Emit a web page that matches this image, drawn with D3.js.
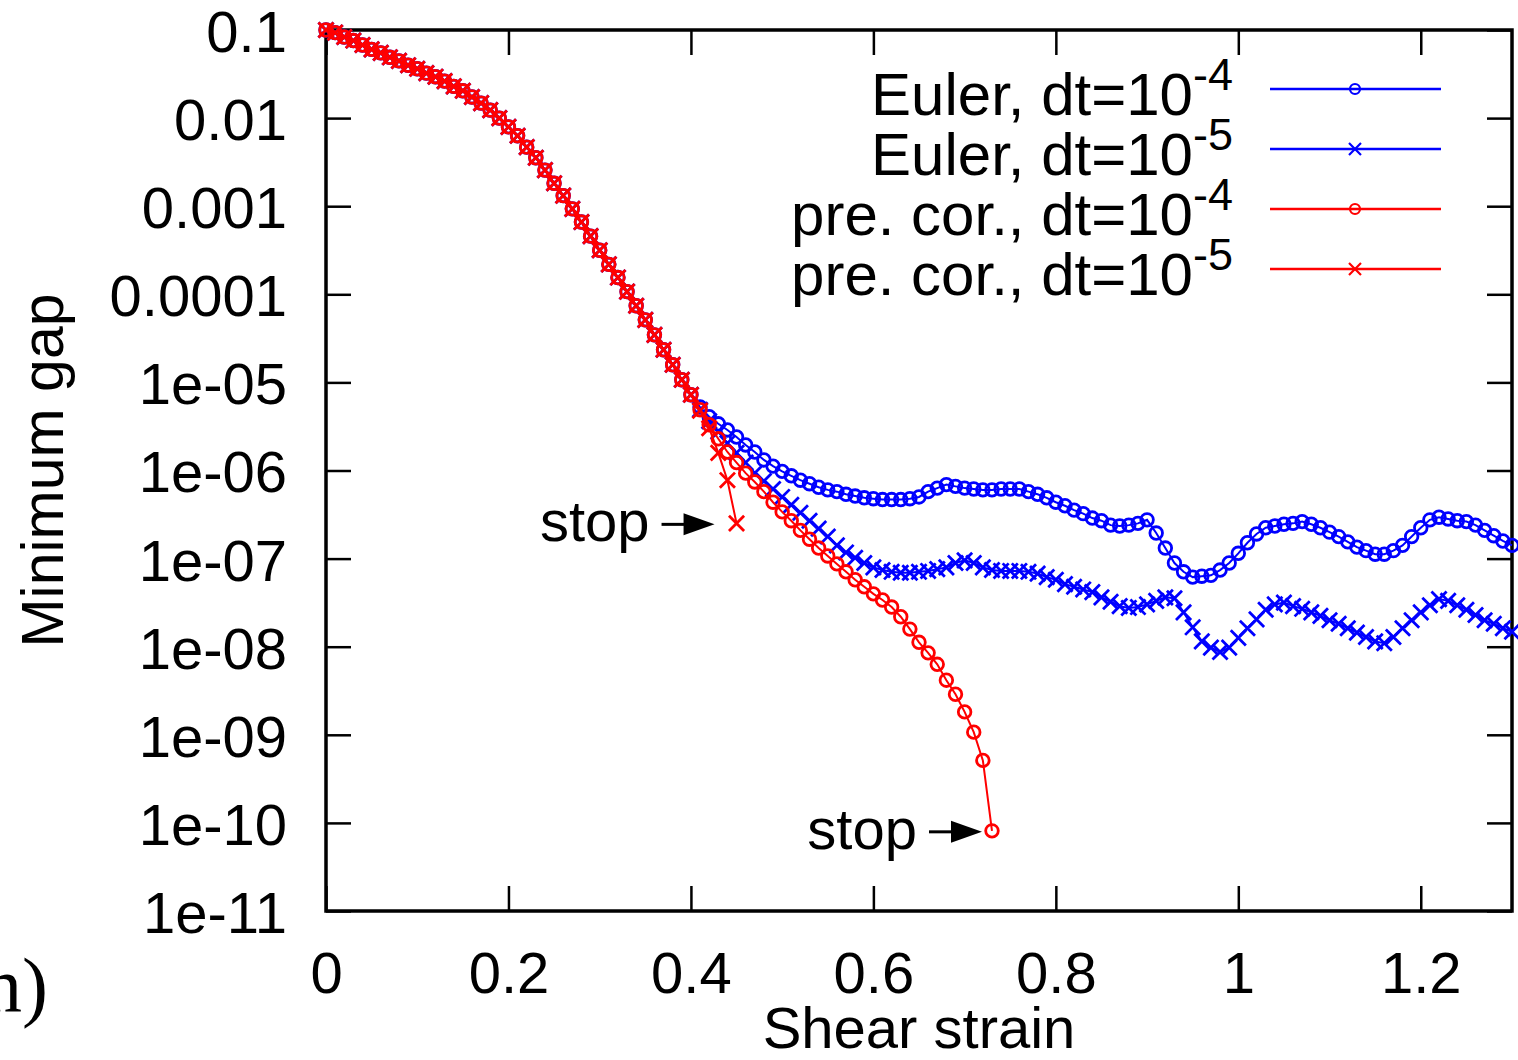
<!DOCTYPE html>
<html>
<head>
<meta charset="utf-8">
<script src="https://cdn.jsdelivr.net/npm/d3@7"></script>
<style>
  body { margin: 0; background: #fff; }
  svg text { font-family: "Liberation Sans", Arial, Helvetica, sans-serif; fill: #000; }
</style>
</head>
<body>
<div id="chart"></div>
<script>
// strain is sampled every 0.01, gaps are stored as log10(minimum gap)
const strainStep = 0.01;

// strain 0.00 .. 0.40, the same for all four runs
const commonLog = [
  -1.00, -1.03, -1.08, -1.12, -1.17, -1.22, -1.26, -1.31, -1.35, -1.40,
  -1.44, -1.49, -1.53, -1.58, -1.64, -1.69, -1.76, -1.83, -1.91, -2.00,
  -2.10, -2.20, -2.33, -2.45, -2.59, -2.74, -2.88, -3.03, -3.18, -3.34,
  -3.50, -3.66, -3.81, -3.97, -4.13, -4.29, -4.46, -4.63, -4.80, -4.97,
  -5.14
];

// strain 0.41 .. 1.30
const eulerDt4Log = [
  -5.28, -5.39, -5.47, -5.54, -5.62, -5.71, -5.79, -5.88, -5.95, -6.01,
  -6.06, -6.11, -6.15, -6.19, -6.22, -6.24, -6.27, -6.29, -6.31, -6.32,
  -6.33, -6.33, -6.33, -6.32, -6.30, -6.24, -6.20, -6.16, -6.18, -6.20,
  -6.21, -6.22, -6.22, -6.21, -6.21, -6.21, -6.24, -6.27, -6.31, -6.36,
  -6.40, -6.45, -6.49, -6.54, -6.57, -6.62, -6.63, -6.62, -6.60, -6.56,
  -6.71, -6.88, -7.05, -7.15, -7.21, -7.20, -7.19, -7.13, -7.05, -6.94,
  -6.82, -6.72, -6.65, -6.63, -6.61, -6.60, -6.58, -6.61, -6.65, -6.70,
  -6.75, -6.81, -6.87, -6.91, -6.95, -6.95, -6.91, -6.85, -6.75, -6.65,
  -6.56, -6.53, -6.55, -6.57, -6.58, -6.62, -6.68, -6.74, -6.80, -6.85
];

// strain 0.41 .. 1.30
const eulerDt5Log = [
  -5.31, -5.44, -5.56, -5.69, -5.80, -5.91, -6.03, -6.12, -6.21, -6.30,
  -6.39, -6.48, -6.57, -6.66, -6.75, -6.85, -6.93, -6.99, -7.05, -7.10,
  -7.13, -7.15, -7.16, -7.16, -7.15, -7.14, -7.12, -7.10, -7.05, -7.02,
  -7.05, -7.10, -7.13, -7.14, -7.14, -7.14, -7.15, -7.17, -7.21, -7.24,
  -7.29, -7.32, -7.35, -7.38, -7.44, -7.49, -7.54, -7.56, -7.55, -7.52,
  -7.48, -7.44, -7.45, -7.61, -7.78, -7.94, -8.01, -8.06, -8.01, -7.90,
  -7.79, -7.69, -7.58, -7.52, -7.50, -7.54, -7.57, -7.61, -7.65, -7.70,
  -7.74, -7.79, -7.84, -7.89, -7.94, -7.96, -7.89, -7.79, -7.70, -7.61,
  -7.53, -7.46, -7.48, -7.53, -7.58, -7.64, -7.70, -7.74, -7.79, -7.83
];

// strain 0.41 .. 0.73 (run stops)
const predCorDt4Log = [
  -5.31, -5.48, -5.64, -5.79, -5.91, -6.03, -6.13, -6.24, -6.36, -6.47,
  -6.57, -6.68, -6.78, -6.88, -6.97, -7.06, -7.15, -7.24, -7.32, -7.40,
  -7.47, -7.55, -7.66, -7.80, -7.95, -8.07, -8.20, -8.38, -8.54, -8.74,
  -8.97, -9.29, -10.09
];

// strain 0.41 .. 0.45 (run stops)
const predCorDt5Log = [-5.32, -5.52, -5.80, -6.11, -6.60];

const xTicks = [0, 0.2, 0.4, 0.6, 0.8, 1, 1.2];
const xTickLabels = ["0", "0.2", "0.4", "0.6", "0.8", "1", "1.2"];
const yTicks = [1e-1, 1e-2, 1e-3, 1e-4, 1e-5, 1e-6, 1e-7, 1e-8, 1e-9, 1e-10, 1e-11];
const yTickLabels = ["0.1", "0.01", "0.001", "0.0001", "1e-05", "1e-06", "1e-07",
  "1e-08", "1e-09", "1e-10", "1e-11"];

const runs = [
  { label: "Euler, dt=10", exp: "-4", color: "#0000ff", marker: "circle", tail: eulerDt4Log },
  { label: "Euler, dt=10", exp: "-5", color: "#0000ff", marker: "cross", tail: eulerDt5Log },
  { label: "pre. cor., dt=10", exp: "-4", color: "#ff0000", marker: "circle", tail: predCorDt4Log },
  { label: "pre. cor., dt=10", exp: "-5", color: "#ff0000", marker: "cross", tail: predCorDt5Log }
];

const W = 1518, H = 1060;
const plotLeft = 326, plotRight = 1512, plotTop = 30, plotBottom = 911;
const fontSize = 58;

const svg = d3.select("#chart").append("svg")
  .attr("width", W)
  .attr("height", H);

const x = d3.scaleLinear().domain([0, 1.3]).range([plotLeft, plotRight]);
const y = d3.scaleLog().domain([1e-11, 0.1]).range([plotBottom, plotTop]);

// axes with inward ticks
const tickLen = 25;
function styleAxis(g) {
  g.select(".domain").remove();
  g.selectAll(".tick line").attr("stroke", "#000").attr("stroke-width", 2.5);
  g.attr("font-size", fontSize).attr("font-family", null);
}

svg.append("g")
  .attr("transform", "translate(0," + plotBottom + ")")
  .call(d3.axisBottom(x).tickValues(xTicks).tickFormat((d, i) => xTickLabels[i])
    .tickSize(-tickLen).tickPadding(41))
  .call(styleAxis);

svg.append("g")
  .attr("transform", "translate(0," + plotTop + ")")
  .call(d3.axisTop(x).tickValues(xTicks).tickFormat("").tickSize(-tickLen))
  .call(styleAxis);

const yAxisG = svg.append("g")
  .attr("transform", "translate(" + plotLeft + ",0)")
  .call(d3.axisLeft(y).tickValues(yTicks).tickFormat((d, i) => yTickLabels[i])
    .tickSize(-tickLen).tickPadding(39))
  .call(styleAxis);
yAxisG.selectAll(".tick text").attr("dy", "0.37em");

svg.append("g")
  .attr("transform", "translate(" + plotRight + ",0)")
  .call(d3.axisRight(y).tickValues(yTicks).tickFormat("").tickSize(-tickLen))
  .call(styleAxis);

// frame
svg.append("rect")
  .attr("x", plotLeft)
  .attr("y", plotTop)
  .attr("width", plotRight - plotLeft)
  .attr("height", plotBottom - plotTop)
  .attr("fill", "none")
  .attr("stroke", "#000")
  .attr("stroke-width", 3.5);

// axis titles
svg.append("text")
  .attr("x", (plotLeft + plotRight) / 2)
  .attr("y", 1048)
  .attr("text-anchor", "middle")
  .attr("font-size", fontSize)
  .text("Shear strain");

svg.append("text")
  .attr("transform", "translate(63," + (plotTop + plotBottom) / 2 + ") rotate(-90)")
  .attr("text-anchor", "middle")
  .attr("font-size", 59)
  .text("Minimum gap");

// marker drawing
function drawMarker(sel, type, color, r, sw) {
  if (type === "circle") {
    sel.append("circle")
      .attr("r", r)
      .attr("fill", "none")
      .attr("stroke", color)
      .attr("stroke-width", sw);
  } else {
    const c = r * 1.2;
    sel.append("path")
      .attr("d", "M" + (-c) + "," + (-c) + "L" + c + "," + c + "M" + (-c) + "," + c + "L" + c + "," + (-c))
      .attr("fill", "none")
      .attr("stroke", color)
      .attr("stroke-width", sw);
  }
}

const line = d3.line()
  .x(d => x(d.s))
  .y(d => y(d.gap));

runs.forEach(run => {
  run.points = commonLog.concat(run.tail).map((g, i) => ({ s: i * strainStep, gap: Math.pow(10, g) }));

  const g = svg.append("g");
  g.append("path")
    .datum(run.points)
    .attr("d", line)
    .attr("fill", "none")
    .attr("stroke", run.color)
    .attr("stroke-width", 2);

  g.selectAll("g.pt")
    .data(run.points)
    .enter().append("g")
    .attr("class", "pt")
    .attr("transform", d => "translate(" + x(d.s) + "," + y(d.gap) + ")")
    .each(function () { drawMarker(d3.select(this), run.marker, run.color, 6.3, 2.8); });
});

// legend
const legend = svg.selectAll(".legend")
  .data(runs)
  .enter().append("g")
  .attr("class", "legend")
  .attr("transform", (d, i) => "translate(0," + (89 + i * 60) + ")");

const legendText = legend.append("text")
  .attr("x", 1233)
  .attr("y", 26)
  .attr("text-anchor", "end")
  .attr("font-size", 60);
legendText.append("tspan").text(d => d.label);
legendText.append("tspan")
  .attr("dy", -25)
  .attr("font-size", 45)
  .text(d => d.exp);

legend.append("line")
  .attr("x1", 1270)
  .attr("x2", 1441)
  .attr("y1", 0)
  .attr("y2", 0)
  .attr("stroke", d => d.color)
  .attr("stroke-width", 2.5);

legend.append("g")
  .attr("transform", "translate(1355,0)")
  .each(function (d) { drawMarker(d3.select(this), d.marker, d.color, 5, 2.2); });

// "stop" annotations at the last point of the predictor-corrector runs
function stopNote(run, gapX) {
  const last = run.points[run.points.length - 1];
  const tipX = x(last.s) - gapX;
  const ty = y(last.gap) + 1;
  svg.append("line")
    .attr("x1", tipX - 53)
    .attr("x2", tipX - 25)
    .attr("y1", ty)
    .attr("y2", ty)
    .attr("stroke", "#000")
    .attr("stroke-width", 3);
  svg.append("path")
    .attr("d", "M" + tipX + "," + ty + "L" + (tipX - 31) + "," + (ty - 11) + "L" + (tipX - 31) + "," + (ty + 11) + "Z")
    .attr("fill", "#000");
  svg.append("text")
    .attr("x", tipX - 65)
    .attr("y", ty + 17)
    .attr("text-anchor", "end")
    .attr("font-size", fontSize)
    .text("stop");
}
stopNote(runs[3], 22);
stopNote(runs[2], 10);

// panel letter, cut at the page edge
svg.append("text")
  .attr("x", -17)
  .attr("y", 1012)
  .attr("font-size", 78)
  .style("font-family", "'Liberation Serif', 'Times New Roman', serif")
  .text("n)");
</script>
</body>
</html>
